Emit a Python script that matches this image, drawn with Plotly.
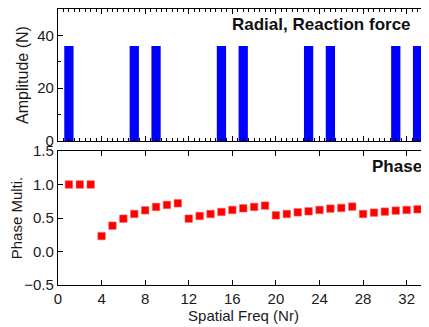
import plotly.graph_objects as go

freq = list(range(1, 35))
amp_nonzero = {1: 36, 7: 36, 9: 36, 15: 36, 17: 36, 23: 36, 25: 36, 31: 36, 33: 36}
amplitude = [amp_nonzero.get(f, 0) for f in freq]
phase = [1.0, 1.0, 1.0, 0.23, 0.385, 0.49, 0.56, 0.615, 0.665, 0.695, 0.72,
         0.49, 0.53, 0.56, 0.59, 0.62, 0.645, 0.665, 0.685,
         0.54, 0.56, 0.585, 0.60, 0.62, 0.64, 0.65, 0.67,
         0.56, 0.58, 0.595, 0.61, 0.62, 0.63, 0.64]

font = "Liberation Sans, Arial, sans-serif"
fig = go.Figure()
fig.add_trace(go.Bar(x=freq, y=amplitude, width=0.85, marker=dict(color="#0000FF", line=dict(width=0)),
                     xaxis="x", yaxis="y"))
fig.add_trace(go.Scatter(x=freq, y=phase, mode="markers",
                         marker=dict(symbol="square", size=7.5, color="#FF0000",
                                     line=dict(width=0.6, color="#FF6060")),
                         xaxis="x2", yaxis="y2"))

# page is offset by the 8px body margin of the html page
OFF = 8
W, H = 421, 319
l, r, t, b = 50, 0, 1, 42
pw, ph = W - l - r, H - t - b

common_x = dict(range=[0, 34.05], showline=True, linecolor="black", linewidth=1.3,
                ticks="inside", tickcolor="black", tickwidth=1, mirror="ticks",
                showgrid=False, zeroline=False, dtick=4, tick0=0, automargin=False)
fig.update_layout(
    width=W, height=H,
    margin=dict(l=l, r=r, t=t, b=b),
    paper_bgcolor="white", plot_bgcolor="white",
    showlegend=False,
    font=dict(family=font, size=15, color="#1a1a1a"),
    xaxis=dict(domain=[0, 1], anchor="y", showticklabels=False, ticklen=5,
               minor=dict(dtick=0.5, ticks="inside", ticklen=3, tickcolor="black"),
               **common_x),
    yaxis=dict(domain=[0.5217, 1], anchor="x", range=[0, 50], dtick=20, automargin=False,
               showline=True, linecolor="black", linewidth=1.3, ticks="inside", ticklen=5,
               tickcolor="black", showgrid=False, zeroline=False,
               minor=dict(dtick=10, ticks="inside", ticklen=3, tickcolor="black"),
               title=dict(text="Amplitude (N)", standoff=4, font=dict(size=16))),
    xaxis2=dict(domain=[0, 1], anchor="y2", showticklabels=True, ticklen=5,
                title=dict(text="Spatial Freq (Nr)", standoff=4, font=dict(size=15)),
                **common_x),
    yaxis2=dict(domain=[0, 0.4855], anchor="x2", range=[-0.5, 1.5], dtick=0.5, automargin=False,
                tickformat=".1f", showline=True, linecolor="black", linewidth=1.3,
                ticks="inside", ticklen=5, tickcolor="black", showgrid=False, zeroline=False,
                title=dict(text="Phase Multi.", standoff=4, font=dict(size=15))),
    annotations=[
        dict(text="<b>Radial, Reaction force</b>", x=321, y=24, showarrow=False,
             font=dict(size=17, color="#111")),
        dict(text="<b>Phase</b>", x=397, y=166, showarrow=False, font=dict(size=17, color="#111")),
    ],
)
for ann in fig.layout.annotations:
    px, py = ann.x - OFF, ann.y - OFF
    ann.x = (px - l) / pw
    ann.y = 1 - (py - t) / ph
    ann.xref = "paper"
    ann.yref = "paper"
    ann.xanchor = "center"
    ann.yanchor = "middle"

fig.write_html("out.html")
